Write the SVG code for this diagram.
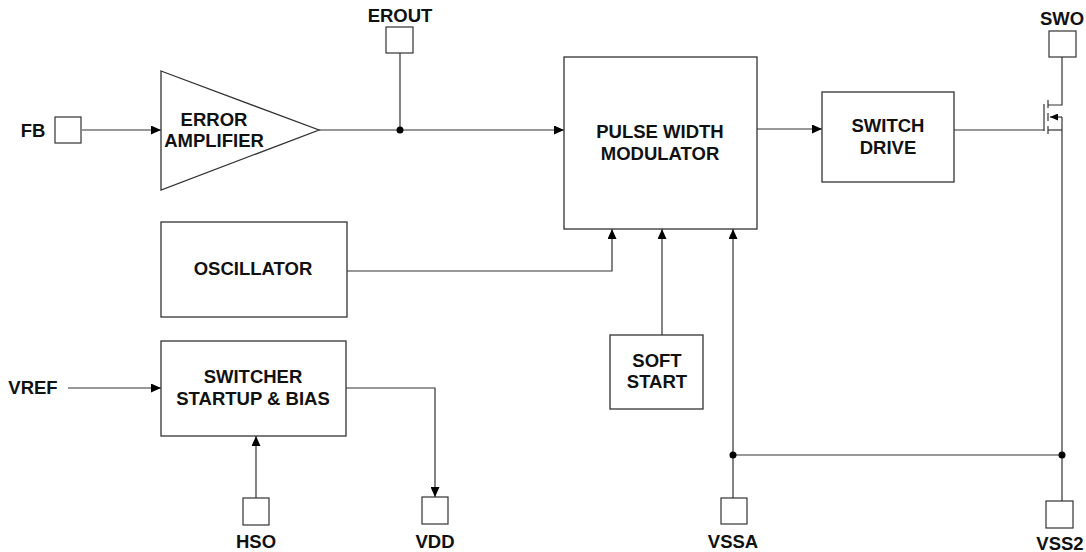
<svg xmlns="http://www.w3.org/2000/svg" width="1086" height="552" viewBox="0 0 1086 552">
<defs>
<marker id="arr" markerUnits="userSpaceOnUse" markerWidth="10" markerHeight="9" refX="10" refY="4.5" orient="auto">
<path d="M0,0 L10,4.5 L0,9 z" fill="#000"/>
</marker>
<marker id="arrs" markerUnits="userSpaceOnUse" markerWidth="8" markerHeight="7" refX="8" refY="3.5" orient="auto">
<path d="M0,0 L8,3.5 L0,7 z" fill="#000"/>
</marker>
<style>
.box{fill:#fff;stroke:#333;stroke-width:1.3}
.pin{fill:#fff;stroke:#333;stroke-width:1.2}
.ln{fill:none;stroke:#333;stroke-width:1.2}
.t{font-family:"Liberation Sans",Arial,sans-serif;font-weight:bold;font-size:18.5px;fill:#111;text-anchor:middle}
.dot{fill:#000}
</style>
</defs>
<rect width="1086" height="552" fill="#fff"/>

<g id="connectors">
<line class="ln" x1="82" y1="130" x2="161" y2="130" marker-end="url(#arr)"/>
<line class="ln" x1="319" y1="130" x2="564" y2="130" marker-end="url(#arr)"/>
<line class="ln" x1="400" y1="53" x2="400" y2="130"/>
<line class="ln" x1="757" y1="129" x2="822" y2="129" marker-end="url(#arr)"/>
<polyline class="ln" points="347,271 612,271 612,229" marker-end="url(#arr)"/>
<line class="ln" x1="662" y1="335" x2="662" y2="229" marker-end="url(#arr)"/>
<line class="ln" x1="733" y1="498" x2="733" y2="229" marker-end="url(#arr)"/>
<line class="ln" x1="733" y1="455" x2="1062" y2="455"/>
<line class="ln" x1="68" y1="388" x2="161" y2="388" marker-end="url(#arr)"/>
<polyline class="ln" points="346,388 435,388 435,497" marker-end="url(#arr)"/>
<line class="ln" x1="256" y1="498" x2="256" y2="436" marker-end="url(#arr)"/>
<line class="ln" x1="954" y1="130" x2="1044" y2="130"/>
<polyline class="ln" points="1062,57 1062,105 1048,105"/>
<line class="ln" x1="1062" y1="117" x2="1062" y2="501"/>
<line class="ln" x1="1048" y1="130" x2="1062" y2="130"/>
<line class="ln" x1="1062" y1="117" x2="1050" y2="117" marker-end="url(#arrs)"/>
<circle class="dot" cx="400" cy="130" r="3.5"/>
<circle class="dot" cx="733" cy="455" r="3.5"/>
<circle class="dot" cx="1062" cy="455" r="3.5"/>
</g>

<g id="mosfet">
<line class="ln" x1="1044" y1="104" x2="1044" y2="131"/>
<line class="ln" x1="1048" y1="100" x2="1048" y2="108"/>
<line class="ln" x1="1048" y1="113" x2="1048" y2="121"/>
<line class="ln" x1="1048" y1="126" x2="1048" y2="134"/>
</g>

<g id="fb">
<rect class="pin" x="55" y="117" width="26" height="26"/>
<text class="t" x="33" y="137">FB</text>
</g>

<g id="error-amplifier">
<polygon class="box" points="161,71 319,130 161,190"/>
<text class="t" x="214" y="126">ERROR</text>
<text class="t" x="214" y="147">AMPLIFIER</text>
</g>

<g id="erout">
<rect class="pin" x="386" y="27" width="27" height="26"/>
<text class="t" x="400" y="22">EROUT</text>
</g>

<g id="pwm">
<rect class="box" x="564" y="57" width="193" height="172"/>
<text class="t" x="660" y="138">PULSE WIDTH</text>
<text class="t" x="660" y="160">MODULATOR</text>
</g>

<g id="switch-drive">
<rect class="box" x="822" y="92" width="132" height="90"/>
<text class="t" x="888" y="132">SWITCH</text>
<text class="t" x="888" y="154">DRIVE</text>
</g>

<g id="swo">
<rect class="pin" x="1049" y="31" width="27" height="26"/>
<text class="t" x="1062" y="25">SWO</text>
</g>

<g id="oscillator">
<rect class="box" x="161" y="222" width="186" height="95"/>
<text class="t" x="253" y="275">OSCILLATOR</text>
</g>

<g id="soft-start">
<rect class="box" x="610" y="335" width="93" height="74"/>
<text class="t" x="657" y="367">SOFT</text>
<text class="t" x="657" y="388">START</text>
</g>

<g id="switcher">
<rect class="box" x="161" y="341" width="185" height="95"/>
<text class="t" x="253" y="383">SWITCHER</text>
<text class="t" x="253" y="405">STARTUP &amp; BIAS</text>
</g>

<g id="vref">
<text class="t" x="33" y="394">VREF</text>
</g>

<g id="hso">
<rect class="pin" x="243" y="498" width="26" height="27"/>
<text class="t" x="256" y="548">HSO</text>
</g>

<g id="vdd">
<rect class="pin" x="422" y="497" width="26" height="27"/>
<text class="t" x="435" y="548">VDD</text>
</g>

<g id="vssa">
<rect class="pin" x="721" y="498" width="26" height="26"/>
<text class="t" x="733" y="548">VSSA</text>
</g>

<g id="vss2">
<rect class="pin" x="1046" y="501" width="27" height="27"/>
<text class="t" x="1060" y="550">VSS2</text>
</g>
</svg>
